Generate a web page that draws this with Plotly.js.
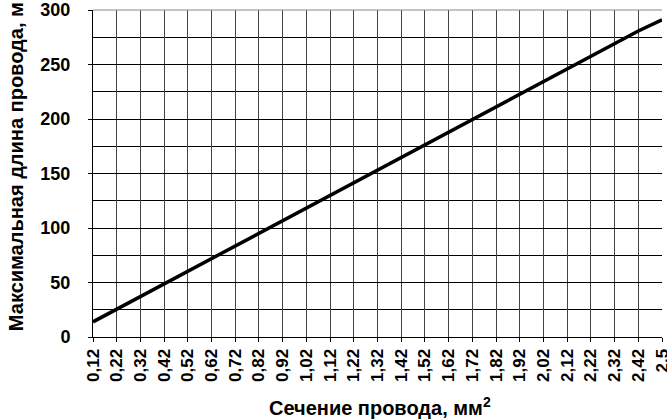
<!DOCTYPE html>
<html>
<head>
<meta charset="utf-8">
<script src="https://cdn.plot.ly/plotly-3.0.1.min.js"></script>
<style>html,body{margin:0;padding:0;background:#fff;}#chart{width:667px;height:419px;}</style>
</head>
<body>
<div id="chart"></div>
<script>
const categories = ["0,12","0,22","0,32","0,42","0,52","0,62","0,72","0,82","0,92","1,02","1,12","1,22","1,32","1,42","1,52","1,62","1,72","1,82","1,92","2,02","2,12","2,22","2,32","2,42","2,5"];
const lengths = [13.9,25.5,37.1,48.7,60.3,71.9,83.5,95.1,106.7,118.3,129.9,141.5,153.1,164.7,176.3,187.9,199.5,211.1,222.7,234.3,245.9,257.5,269.1,280.7,291];
const yTitle = "Максимальная длина провода, м";
const xTitle = "Сечение провода, мм<sup>2</sup>";

const fontFam = "Liberation Sans, Arial, sans-serif";
const data = [{
  x: categories, y: lengths, type: "scatter", mode: "lines",
  line: {color: "#000", width: 3.5}, hoverinfo: "none"
}];
const layout = {
  width: 667, height: 419,
  margin: {l: 93, r: 5, t: 10, b: 82},
  paper_bgcolor: "#fff", plot_bgcolor: "#fff",
  showlegend: false,
  font: {family: fontFam, color: "#000"},
  xaxis: {
    type: "category", range: [0, 24],
    showgrid: true, gridcolor: "#444", gridwidth: 1,
    showline: true, linecolor: "#000", linewidth: 1, mirror: false,
    ticks: "outside", ticklen: 4, tickcolor: "#000",
    tickangle: -90, tickfont: {size: 17, family: fontFam, weight: "bold"},
    zeroline: false, fixedrange: true
  },
  yaxis: {
    range: [0, 300], dtick: 50, tick0: 0,
    showgrid: true, gridcolor: "#000", gridwidth: 1,
    minor: {dtick: 25, showgrid: true, gridcolor: "#000", gridwidth: 1},
    showline: true, linecolor: "#000", linewidth: 1,
    ticks: "outside", ticklen: 4, tickcolor: "#000",
    ticklabelstandoff: 14,
    tickfont: {size: 18, family: fontFam, weight: "bold"},
    zeroline: false, fixedrange: true
  },
  shapes: [{type: "line", xref: "paper", yref: "paper", x0: 0, x1: 1, y0: 1, y1: 1, line: {color: "#888", width: 1}}],
  annotations: [
    {text: yTitle, xref: "paper", yref: "paper", x: -0.135, y: 0.52, xanchor: "center", yanchor: "middle",
     textangle: -90, showarrow: false, font: {size: 20, family: fontFam, weight: "bold"}},
    {text: xTitle, xref: "paper", yref: "paper", x: 0.504, y: -0.168, xanchor: "center", yanchor: "top",
     showarrow: false, font: {size: 20, family: fontFam, weight: "bold"}}
  ]
};
Plotly.newPlot("chart", data, layout, {staticPlot: true, displayModeBar: false});
</script>
</body>
</html>
